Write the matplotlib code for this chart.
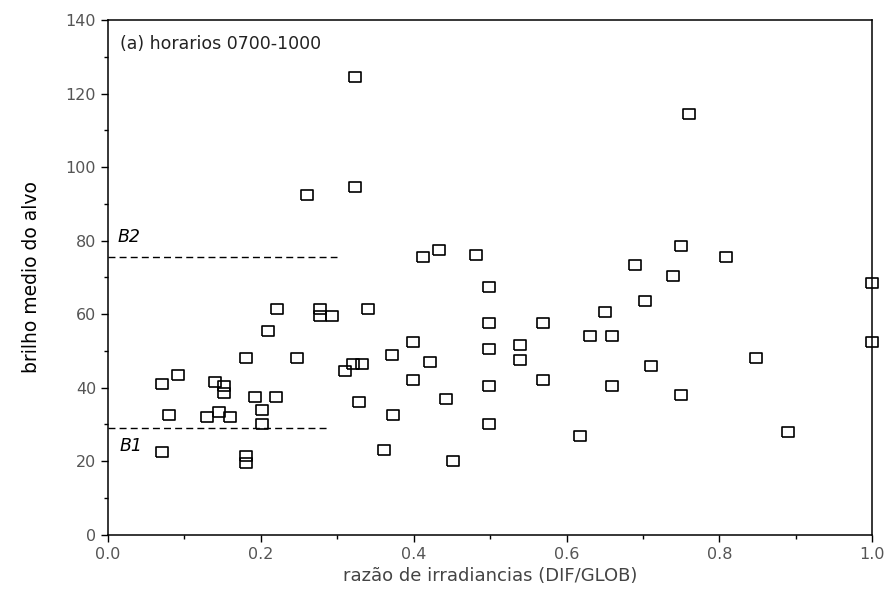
import numpy as np
import matplotlib
matplotlib.use("Agg")
import matplotlib.pyplot as plt
from matplotlib.ticker import MultipleLocator

# razao de irradiancias (DIF/GLOB) vs brilho medio do alvo, horarios 0700-1000
razao = [0.071, 0.092, 0.080, 0.071, 0.140, 0.152, 0.152, 0.130, 0.145, 0.160,
         0.180, 0.180, 0.180, 0.192, 0.202, 0.202, 0.220, 0.209, 0.221, 0.247,
         0.261, 0.278, 0.278, 0.293, 0.310, 0.320, 0.332, 0.323, 0.323, 0.329,
         0.340, 0.361, 0.371, 0.373, 0.399, 0.399, 0.412, 0.421, 0.433, 0.442,
         0.451, 0.482, 0.498, 0.498, 0.498, 0.498, 0.498, 0.539, 0.539, 0.569,
         0.569, 0.618, 0.630, 0.650, 0.660, 0.659, 0.690, 0.702, 0.710, 0.739,
         0.749, 0.749, 0.760, 0.809, 0.848, 0.889, 1.000, 1.000]
brilho = [41.0, 43.5, 32.5, 22.5, 41.5, 40.5, 38.5, 32.0, 33.5, 32.0,
          48.0, 21.5, 19.5, 37.5, 34.0, 30.0, 37.5, 55.5, 61.5, 48.0,
          92.5, 61.5, 59.5, 59.5, 44.5, 46.5, 46.5, 124.5, 94.5, 36.0,
          61.5, 23.0, 49.0, 32.5, 52.5, 42.0, 75.5, 47.0, 77.5, 37.0,
          20.0, 76.0, 67.5, 57.5, 50.5, 40.5, 30.0, 51.5, 47.5, 57.5,
          42.0, 27.0, 54.0, 60.5, 54.0, 40.5, 73.5, 63.5, 46.0, 70.5,
          78.5, 38.0, 114.5, 75.5, 48.0, 28.0, 68.5, 52.5]

# limiares B1 e B2: (valor, ate onde vai a linha)
b1_val, b1_fim = 29.0, 0.29
b2_val, b2_fim = 75.5, 0.30

fig = plt.figure(figsize=(8.92, 6.05), dpi=100)
ax = fig.add_axes([0.121, 0.116, 0.857, 0.851])

# quadrados um pouco mais largos que altos
quad = [(-1.2, -1), (1.2, -1), (1.2, 1), (-1.2, 1), (-1.2, -1)]
ax.plot(razao, brilho, ls='none', marker=quad, ms=8.5, mfc='none',
        mec='black', mew=1.2, clip_on=False, zorder=3)

ax.plot([0, b2_fim], [b2_val, b2_val], color='black', lw=1.0, dashes=(5, 3))
ax.plot([0, b1_fim], [b1_val, b1_val], color='black', lw=1.0, dashes=(5, 3))
ax.text(0.012, b2_val + 3.0, 'B2', fontsize=12.5, style='italic', va='bottom')
ax.text(0.015, b1_val - 2.3, 'B1', fontsize=12.5, style='italic', va='top')

ax.text(0.016, 136, '(a) horarios 0700-1000', fontsize=12.5, va='top', color='#222')

ax.set_xlim(0, 1.0)
ax.set_ylim(0, 140)
ax.xaxis.set_major_locator(MultipleLocator(0.2))
ax.xaxis.set_minor_locator(MultipleLocator(0.1))
ax.yaxis.set_major_locator(MultipleLocator(20))
ax.yaxis.set_minor_locator(MultipleLocator(10))
ax.xaxis.set_major_formatter(plt.FuncFormatter(lambda v, p: f'{v:.1f}'))
ax.tick_params(which='major', direction='out', length=5, width=1,
               labelsize=11.5, labelcolor='#555')
ax.tick_params(which='minor', direction='out', length=3, width=1)
for s in ax.spines.values():
    s.set_linewidth(1.1)

ax.set_xlabel('razão de irradiancias (DIF/GLOB)', fontsize=13, color='#444', labelpad=4)
ax.set_ylabel('brilho medio do alvo', fontsize=13.5, labelpad=18)

fig.savefig('out.png', dpi=100)
